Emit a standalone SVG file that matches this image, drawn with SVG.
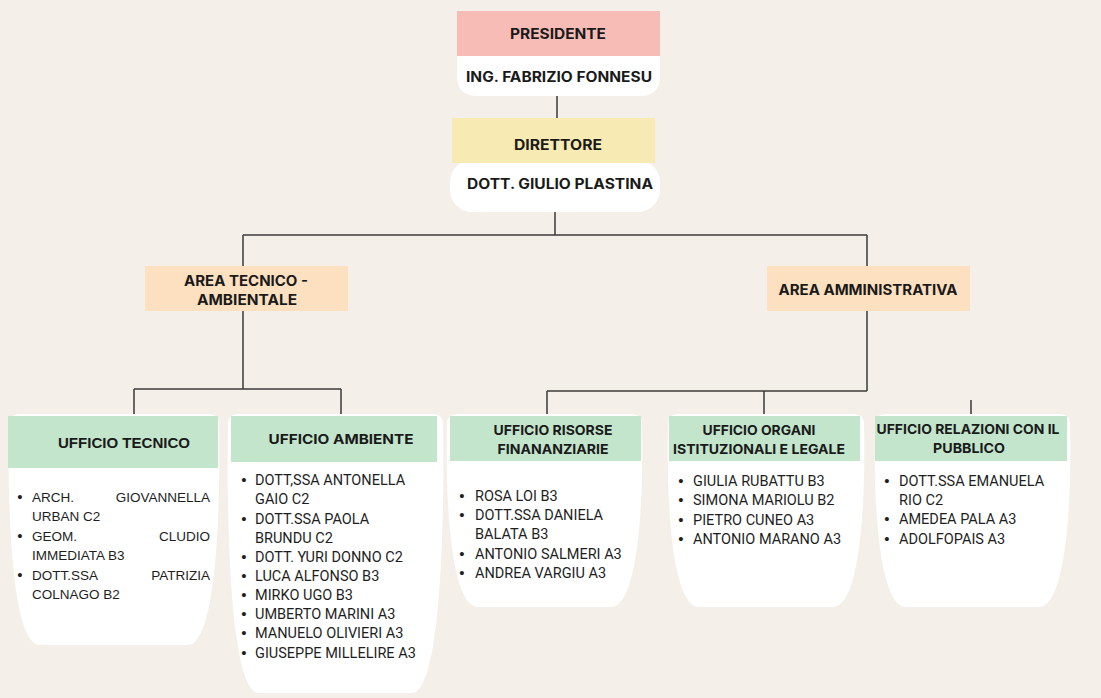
<svg xmlns="http://www.w3.org/2000/svg" width="1101" height="698" viewBox="0 0 1101 698">
<style>
.bg{fill:#F4EFE9}
.w{fill:#FFFFFF}
.pink{fill:#F8BCB6}
.yel{fill:#F7EAB2}
.org{fill:#FCE0C0}
.grn{fill:#C3E5CC}
.lbl{font-family:Inter,"Noto Sans",sans-serif;font-weight:700;font-size:14px;fill:#1A1A1A;text-anchor:middle}
.hd{font-family:Inter,"Noto Sans",sans-serif;font-weight:700;font-size:13.5px;fill:#1A1A1A;text-anchor:middle}
.hda{font-family:"Liberation Sans",Arial,sans-serif;font-weight:700;font-size:15px;fill:#1A1A1A;text-anchor:middle}
.tx{font-family:Roboto,"Noto Sans",sans-serif;font-size:14.5px;fill:#1E1E1E}
.txa{font-family:"Liberation Sans",Arial,sans-serif;font-size:13.5px;fill:#1E1E1E}
.bl{font-family:"Liberation Sans",Arial,sans-serif;font-size:15px;fill:#1E1E1E;text-anchor:middle}
.cn{fill:none;stroke:#3A3A3A;stroke-width:1.5}
</style>
<rect class="bg" x="0" y="0" width="1101" height="698"/>

<g id="connectors">
<path class="cn" d="M557,96 V118"/>
<path class="cn" d="M555,212 V235"/>
<path class="cn" d="M243,235 H867"/>
<path class="cn" d="M243,235 V266"/>
<path class="cn" d="M867,235 V266"/>
<path class="cn" d="M243,311 V389"/>
<path class="cn" d="M134,389 H341"/>
<path class="cn" d="M134,389 V416"/>
<path class="cn" d="M341,389 V416"/>
<path class="cn" d="M867,311 V391"/>
<path class="cn" d="M547,391 H867"/>
<path class="cn" d="M547,391 V416"/>
<path class="cn" d="M764,391 V416"/>
<path class="cn" d="M971,400 V416"/>
</g>

<g id="presidente">
<path class="w" d="M457,56 H660 V76 Q660,96 640,96 H477 Q457,96 457,76 Z"/>
<rect class="pink" x="457" y="11" width="203" height="45"/>
<text class="lbl" x="558" y="39" textLength="96" lengthAdjust="spacingAndGlyphs">PRESIDENTE</text>
<text class="lbl" x="559" y="82" textLength="186" lengthAdjust="spacingAndGlyphs">ING. FABRIZIO FONNESU</text>
</g>

<g id="direttore">
<rect class="w" x="450" y="160" width="210" height="52" rx="22" ry="22"/>
<rect class="yel" x="452" y="118" width="203" height="45"/>
<text class="lbl" x="558" y="150" textLength="88" lengthAdjust="spacingAndGlyphs">DIRETTORE</text>
<text class="lbl" x="560" y="189" textLength="186" lengthAdjust="spacingAndGlyphs">DOTT. GIULIO PLASTINA</text>
</g>

<g id="area-tecnico-ambientale">
<rect class="org" x="145" y="266" width="203" height="45"/>
<text class="lbl" x="246" y="286" textLength="124" lengthAdjust="spacingAndGlyphs">AREA TECNICO -</text>
<text class="lbl" x="247" y="305" textLength="100" lengthAdjust="spacingAndGlyphs">AMBIENTALE</text>
</g>

<g id="area-amministrativa">
<rect class="org" x="767" y="266" width="203" height="45"/>
<text class="lbl" x="868" y="295" textLength="179" lengthAdjust="spacingAndGlyphs">AREA AMMINISTRATIVA</text>
</g>

<g id="ufficio-tecnico">
<path class="w" d="M20,414 H208 Q219,414 219,424 C221,529 214,645 188,645 H40 C14,645 7,529 9,424 Q9,414 20,414 Z"/>
<rect class="grn" x="8" y="416" width="210" height="52"/>
<text class="hda" x="124" y="448" textLength="132" lengthAdjust="spacingAndGlyphs">UFFICIO TECNICO</text>
<g class="txa">
<text class="bl" x="20" y="502">•</text><text x="32" y="502">ARCH.</text><text x="210" y="502" text-anchor="end">GIOVANNELLA</text>
<text x="32" y="521">URBAN C2</text>
<text class="bl" x="20" y="541">•</text><text x="32" y="541">GEOM.</text><text x="210" y="541" text-anchor="end">CLUDIO</text>
<text x="32" y="560">IMMEDIATA B3</text>
<text class="bl" x="20" y="580">•</text><text x="32" y="580">DOTT.SSA</text><text x="210" y="580" text-anchor="end">PATRIZIA</text>
<text x="32" y="599">COLNAGO B2</text>
</g>
</g>

<g id="ufficio-ambiente">
<path class="w" d="M239,414 H432 Q443,414 443,424 C445,553 438,693 412,693 H259 C233,693 226,553 228,424 Q228,414 239,414 Z"/>
<rect class="grn" x="231" y="416" width="206" height="46"/>
<text class="hd" x="341" y="444" font-size="14" textLength="145" lengthAdjust="spacingAndGlyphs">UFFICIO AMBIENTE</text>
<g class="tx">
<text class="bl" x="244" y="485">•</text><text x="255" y="485">DOTT,SSA ANTONELLA</text>
<text x="255" y="504">GAIO C2</text>
<text class="bl" x="244" y="524">•</text><text x="255" y="524">DOTT.SSA PAOLA</text>
<text x="255" y="543">BRUNDU C2</text>
<text class="bl" x="244" y="562">•</text><text x="255" y="562">DOTT. YURI DONNO C2</text>
<text class="bl" x="244" y="581">•</text><text x="255" y="581">LUCA ALFONSO B3</text>
<text class="bl" x="244" y="600">•</text><text x="255" y="600">MIRKO UGO B3</text>
<text class="bl" x="244" y="619">•</text><text x="255" y="619">UMBERTO MARINI A3</text>
<text class="bl" x="244" y="638">•</text><text x="255" y="638">MANUELO OLIVIERI A3</text>
<text class="bl" x="244" y="658">•</text><text x="255" y="658">GIUSEPPE MILLELIRE A3</text>
</g>
</g>

<g id="ufficio-risorse-finanziarie">
<path class="w" d="M458,414 H631 Q642,414 642,424 C644,510 637,607 611,607 H478 C452,607 445,510 447,424 Q447,414 458,414 Z"/>
<rect class="grn" x="450" y="416" width="191" height="45"/>
<text class="hd" x="553" y="435" textLength="119" lengthAdjust="spacingAndGlyphs">UFFICIO RISORSE</text>
<text class="hd" x="553" y="454" textLength="111" lengthAdjust="spacingAndGlyphs">FINANANZIARIE</text>
<g class="tx">
<text class="bl" x="462" y="501">•</text><text x="475" y="501">ROSA LOI B3</text>
<text class="bl" x="462" y="520">•</text><text x="475" y="520">DOTT.SSA DANIELA</text>
<text x="475" y="539">BALATA B3</text>
<text class="bl" x="462" y="559">•</text><text x="475" y="559">ANTONIO SALMERI A3</text>
<text class="bl" x="462" y="578">•</text><text x="475" y="578">ANDREA VARGIU A3</text>
</g>
</g>

<g id="ufficio-organi">
<path class="w" d="M679,414 H853 Q864,414 864,424 C866,510 859,607 833,607 H699 C673,607 666,510 668,424 Q668,414 679,414 Z"/>
<rect class="grn" x="669" y="416" width="191" height="45"/>
<text class="hd" x="759" y="435" textLength="113" lengthAdjust="spacingAndGlyphs">UFFICIO ORGANI</text>
<text class="hd" x="759" y="454" textLength="172" lengthAdjust="spacingAndGlyphs">ISTITUZIONALI E LEGALE</text>
<g class="tx">
<text class="bl" x="681" y="486">•</text><text x="693" y="486">GIULIA RUBATTU B3</text>
<text class="bl" x="681" y="505">•</text><text x="693" y="505">SIMONA MARIOLU B2</text>
<text class="bl" x="681" y="525">•</text><text x="693" y="525">PIETRO CUNEO A3</text>
<text class="bl" x="681" y="544">•</text><text x="693" y="544">ANTONIO MARANO A3</text>
</g>
</g>

<g id="ufficio-relazioni">
<path class="w" d="M886,414 H1059 Q1070,414 1070,424 C1072,510 1065,607 1039,607 H906 C880,607 873,510 875,424 Q875,414 886,414 Z"/>
<rect class="grn" x="875" y="416" width="192" height="45"/>
<text class="hd" x="968" y="434" textLength="183" lengthAdjust="spacingAndGlyphs">UFFICIO RELAZIONI CON IL</text>
<text class="hd" x="969" y="453" textLength="72" lengthAdjust="spacingAndGlyphs">PUBBLICO</text>
<g class="tx">
<text class="bl" x="887" y="486">•</text><text x="899" y="486">DOTT.SSA EMANUELA</text>
<text x="899" y="505">RIO C2</text>
<text class="bl" x="887" y="524">•</text><text x="899" y="524">AMEDEA PALA A3</text>
<text class="bl" x="887" y="544">•</text><text x="899" y="544">ADOLFOPAIS A3</text>
</g>
</g>
</svg>
